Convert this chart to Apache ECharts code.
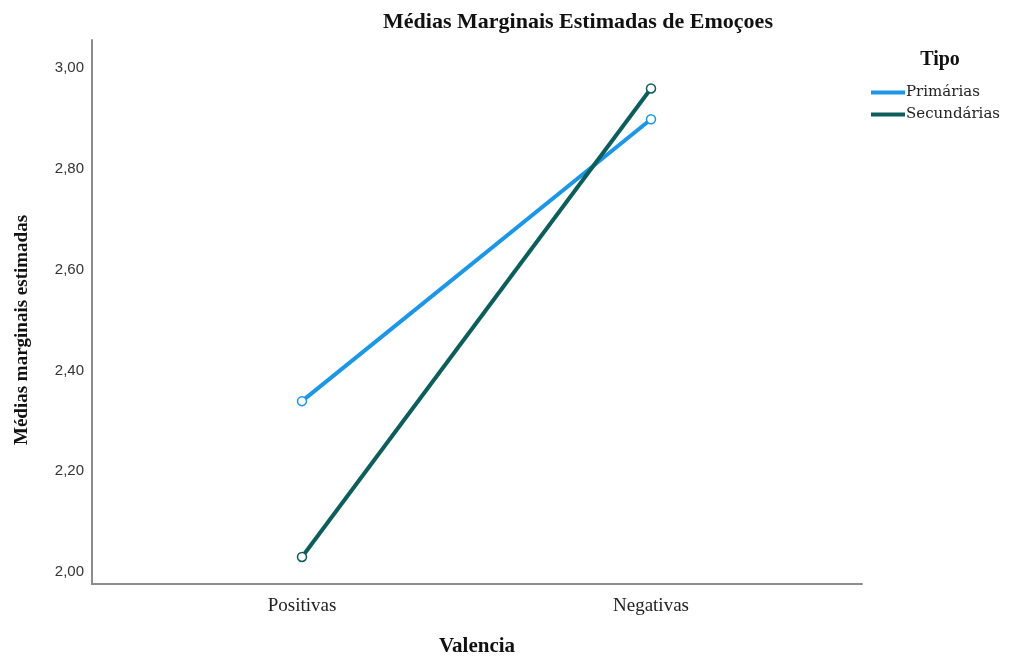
<!DOCTYPE html>
<html>
<head>
<meta charset="utf-8">
<script src="https://cdn.jsdelivr.net/npm/echarts@6/dist/echarts.min.js"></script>
<style>html,body{margin:0;padding:0;background:#fff;}#c{width:1018px;height:662px;}</style>
</head>
<body>
<div id="c"></div>
<script>
var categories = ['Positivas', 'Negativas'];
var seriesNames = ['Primárias', 'Secundárias'];
var primarias = [2.339, 2.898];
var secundarias = [2.030, 2.959];
var yTicks = [2.0, 2.2, 2.4, 2.6, 2.8, 3.0];
var colors = ['#1e96e6', '#0d5e5a'];

function toPairs(arr) { return arr.map(function (v, i) { return [i, v]; }); }

var chart = echarts.init(document.getElementById('c'));
var serif = 'Liberation Serif';
var option = {
  backgroundColor: '#fff',
  animation: false,
  title: [
    { text: 'Médias Marginais Estimadas de Emoçoes', left: 573, top: 6, textAlign: 'center',
      textStyle: { fontFamily: serif, fontWeight: 'bold', fontSize: 22, color: '#111' } },
    { text: 'Tipo', left: 935, top: 45, textAlign: 'center',
      textStyle: { fontFamily: serif, fontWeight: 'bold', fontSize: 20, color: '#111' } }
  ],
  graphic: [
    { type: 'text', x: 22, y: 330, rotation: Math.PI / 2,
      style: { text: 'Médias marginais estimadas', fontFamily: serif, fontWeight: 'bold', fontSize: 19,
        fill: '#111', align: 'center', verticalAlign: 'middle' } }
  ],
  legend: {
    orient: 'vertical', left: 866, top: 80, itemGap: 7,
    itemWidth: 34, itemHeight: 4, icon: 'rect',
    textStyle: { fontFamily: 'DejaVu Serif', fontSize: 15, color: '#222', padding: [0, 0, 0, -4] },
    data: [
      { name: seriesNames[0], itemStyle: { color: colors[0], borderWidth: 0 } },
      { name: seriesNames[1], itemStyle: { color: colors[1], borderWidth: 0 } }
    ]
  },
  grid: { left: 92, top: 40, right: 156, bottom: 73 },
  xAxis: {
    type: 'value', min: -0.6017, max: 1.6046,
    axisLine: { show: true, onZero: false, lineStyle: { color: '#8c8c8c', width: 2 } },
    axisTick: { show: false },
    splitLine: { show: false },
    axisLabel: {
      customValues: [0, 1], fontFamily: serif, fontSize: 19, color: '#222', margin: 13,
      formatter: function (v) { return categories[Math.round(v)]; }
    },
    name: 'Valencia', nameLocation: 'middle', nameGap: 52,
    nameTextStyle: { fontFamily: serif, fontWeight: 'bold', fontSize: 21, color: '#111' }
  },
  yAxis: {
    type: 'value', min: 1.9764, max: 3.0551,
    axisLine: { show: true, onZero: false, lineStyle: { color: '#8c8c8c', width: 2 } },
    axisTick: { show: false },
    splitLine: { show: false },
    axisLabel: {
      customValues: yTicks, fontFamily: 'Liberation Sans', fontSize: 15, color: '#333', margin: 8,
      formatter: function (v) { return v.toFixed(2).replace('.', ','); }
    }
  },
  series: [
    { name: seriesNames[0], type: 'line', data: toPairs(primarias), color: colors[0],
      lineStyle: { width: 4, color: colors[0] }, symbol: 'circle', symbolSize: 9,
      itemStyle: { color: '#fff', borderColor: colors[0], borderWidth: 1.5 } },
    { name: seriesNames[1], type: 'line', data: toPairs(secundarias), color: colors[1],
      lineStyle: { width: 4, color: colors[1] }, symbol: 'circle', symbolSize: 9,
      itemStyle: { color: '#fff', borderColor: colors[1], borderWidth: 1.5 } }
  ]
};
chart.setOption(option);
</script>
</body>
</html>
